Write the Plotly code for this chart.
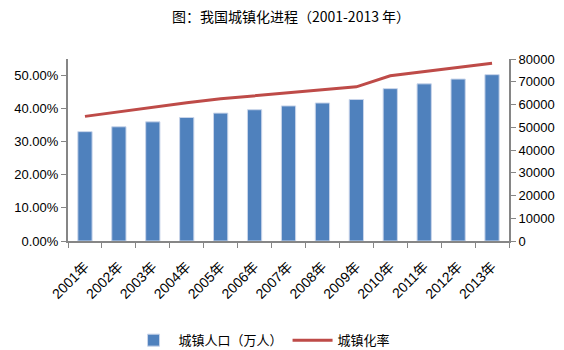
import plotly.graph_objects as go

years = ["2001年", "2002年", "2003年", "2004年", "2005年", "2006年", "2007年",
         "2008年", "2009年", "2010年", "2011年", "2012年", "2013年"]
urban_pop = [48064, 50212, 52376, 54283, 56212, 57706, 59379,
             60667, 62186, 66978, 69079, 71182, 73111]
urban_rate = [0.3766, 0.3909, 0.4053, 0.4176, 0.4299, 0.4390, 0.4494,
              0.4568, 0.4659, 0.4995, 0.5127, 0.5257, 0.5373]

font_cjk = "Liberation Sans, Noto Sans CJK SC, sans-serif"

fig = go.Figure()
fig.add_trace(go.Bar(
    x=years, y=urban_pop, name="城镇人口（万人）", yaxis="y2",
    marker=dict(color="#4F81BD", line=dict(color="#C9D5EA", width=1)),
    width=0.42,
))
fig.add_trace(go.Scatter(
    x=years, y=urban_rate, name="城镇化率", yaxis="y",
    mode="lines", line=dict(color="#BE4B48", width=3),
))

axis_line = "#868686"
fig.update_layout(
    width=564, height=350,
    margin=dict(l=68, r=55, t=59, b=109, autoexpand=False),
    paper_bgcolor="white", plot_bgcolor="white",
    font=dict(family=font_cjk, size=13, color="#000000"),
    title=dict(text="图：我国城镇化进程（2001-2013 年）", x=0.516, xanchor="center",
               y=0.951, yanchor="middle",
               font=dict(size=14, family="Noto Sans CJK SC, sans-serif", color="#000")),
    xaxis=dict(type="category", showline=True, linecolor=axis_line, linewidth=2,
               ticks="outside", tickson="boundaries", ticklen=5, tickcolor=axis_line,
               tickwidth=1, tickangle=-45, showgrid=False, automargin=False,
               ticklabelstandoff=10,
               tickfont=dict(size=14, family=font_cjk)),
    yaxis=dict(range=[0, 0.55], tickvals=[0, 0.1, 0.2, 0.3, 0.4, 0.5],
               tickformat=".2%", showline=True, linecolor=axis_line, linewidth=2,
               ticks="outside", ticklen=5, tickcolor=axis_line, showgrid=False,
               zeroline=False, automargin=False, tickfont=dict(size=13)),
    yaxis2=dict(range=[0, 80000], dtick=10000, tickformat="d", overlaying="y", side="right",
                showline=True, linecolor=axis_line, linewidth=2,
                ticks="outside", ticklen=5, tickcolor=axis_line, showgrid=False,
                zeroline=False, automargin=False, tickfont=dict(size=13)),
    legend=dict(orientation="h", x=0.44, xanchor="center", y=-0.545, yanchor="middle",
                font=dict(size=13, family="Noto Sans CJK SC, sans-serif"),
                traceorder="normal", itemwidth=40),
    bargap=0.58,
    showlegend=True,
)

fig.write_html("out.html")
